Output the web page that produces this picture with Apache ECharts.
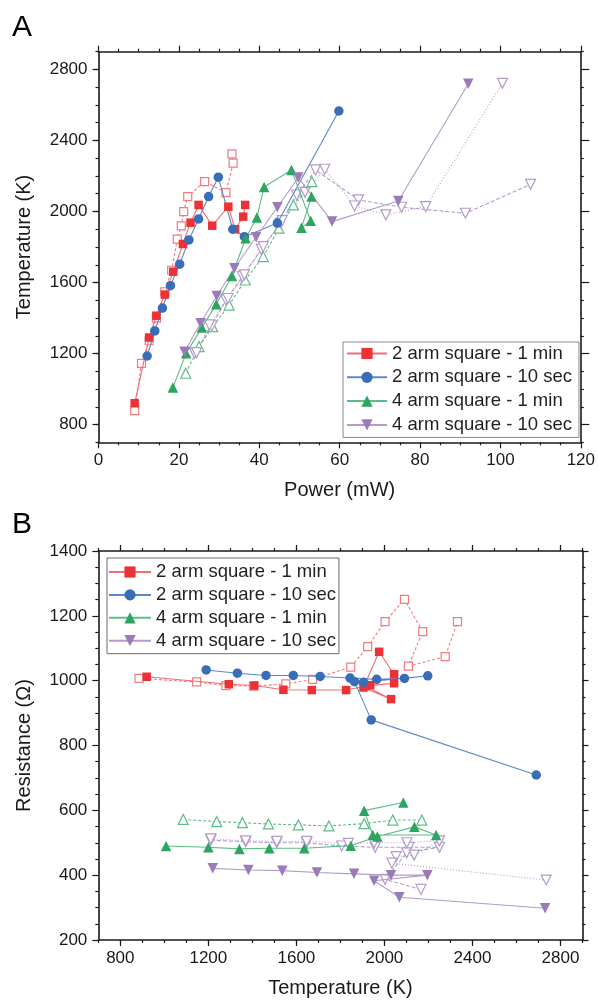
<!DOCTYPE html>
<html><head><meta charset="utf-8">
<script src="https://cdn.jsdelivr.net/npm/echarts@6/dist/echarts.min.js"></script>
<style>html,body{margin:0;padding:0;background:#fff}#c{width:598px;height:1003px}</style>
</head><body><div id="c"></div>
<script>
// ---------- Panel A: Power (mW) vs Temperature (K) ----------
const redP  = [9.0, 12.6, 14.4, 16.5, 18.6, 21.0, 22.9, 24.9, 28.3, 32.3, 34.0, 36.0, 36.5];
const redT  = [920, 1290, 1413, 1532, 1661, 1817, 1937, 2037, 1920, 2027, 1900, 1971, 2037];
const redOP = [9.0, 10.7, 12.6, 14.4, 16.5, 18.2, 19.6, 20.6, 21.2, 22.2, 26.4, 31.7, 33.5, 33.2];
const redOT = [878, 1145, 1272, 1399, 1548, 1669, 1844, 1919, 1999, 2084, 2168, 2106, 2272, 2324];
const bluP  = [12.1, 14.0, 15.9, 17.9, 20.2, 22.5, 24.9, 27.4, 29.8, 33.4, 36.3, 44.5, 59.8];
const bluT  = [1186, 1327, 1456, 1582, 1703, 1840, 1958, 2084, 2193, 1900, 1858, 1935, 2566];
const grnP  = [18.5, 21.8, 25.7, 29.3, 33.2, 36.6, 39.4, 41.2, 48.0, 52.8, 50.5, 53.0];
const grnT  = [1008, 1201, 1346, 1477, 1637, 1849, 1966, 2138, 2234, 1948, 1909, 2084];
const grnOP = [21.7, 25.0, 28.4, 32.5, 36.5, 41.0, 44.9, 48.5, 53.1];
const grnOT = [1089, 1239, 1351, 1473, 1614, 1746, 1906, 2037, 2168];
const purP  = [21.4, 25.4, 29.4, 33.8, 39.2, 44.5, 49.7, 58.1, 74.6, 92.0];
const purT  = [1210, 1370, 1524, 1680, 1855, 2024, 2191, 1943, 2059, 2719];
const purDP = [23.9, 28.2, 31.7, 35.8, 40.5, 45.3, 49.3, 54.0, 64.7, 75.4, 91.3, 107.5];
const purDT = [1201, 1355, 1502, 1633, 1787, 1934, 2093, 2234, 2065, 2024, 1990, 2153];
const purXP = [24.4, 27.6, 32.2, 36.3, 41.0, 45.7, 51.4, 56.3, 63.7, 71.5, 81.4, 100.5];
const purXT = [1205, 1361, 1510, 1643, 1802, 1948, 2108, 2238, 2031, 1981, 2027, 2722];

// ---------- Panel B: Temperature (K) vs Resistance (Ω) ----------
const redBT  = [920, 1293, 1409, 1541, 1670, 1826, 1935, 2044, 1915, 2030, 1905, 1976, 2044];
const redBR  = [1012, 989, 985, 972, 971, 971, 986, 992, 983, 943, 979, 1089, 1020];
const redOBT = [885, 1147, 1280, 1405, 1552, 1674, 1847, 1924, 2003, 2091, 2174, 2109, 2276, 2332];
const redOBR = [1007, 996, 985, 983, 990, 1004, 1042, 1105, 1182, 1251, 1151, 1045, 1074, 1182];
const bluBT  = [1190, 1332, 1462, 1586, 1708, 1844, 1965, 2091, 2197, 1905, 1864, 1940, 2690];
const bluBR  = [1033, 1023, 1016, 1016, 1013, 1008, 1004, 1007, 1015, 995, 997, 879, 709];
const grnBT  = [1008, 1200, 1341, 1477, 1636, 1847, 1968, 2136, 2235, 1947, 1908, 2086];
const grnBR  = [490, 486, 481, 483, 483, 491, 519, 549, 524, 524, 599, 624];
const grnOBT = [1086, 1238, 1355, 1473, 1609, 1748, 1908, 2038, 2170];
const grnOBR = [572, 565, 562, 558, 555, 552, 559, 570, 570];
const purBT  = [1220, 1382, 1536, 1693, 1862, 2030, 2195, 1953, 2068, 2730];
const purBR  = [421, 416, 414, 408, 404, 400, 400, 383, 332, 298];
const purDBT = [1211, 1370, 1511, 1647, 1806, 1958, 2112, 2250, 2101, 2003, 2166];
const purDBR = [508, 503, 500, 500, 490, 486, 486, 486, 469, 387, 356];
const purXBT = [1211, 1370, 1511, 1647, 1836, 1953, 2102, 2250, 2135, 2053, 2034, 2735];
const purXBR = [512, 506, 504, 504, 498, 500, 500, 506, 462, 457, 437, 385];

// ---------- Labels ----------
const names = ['2 arm square - 1 min', '2 arm square - 10 sec', '4 arm square - 1 min', '4 arm square - 10 sec'];
const tempTicks = [800, 1200, 1600, 2000, 2400, 2800];

const FONT = '"Liberation Sans", Arial, sans-serif';
const INK = '#1a1a1a';
const zip = (a, b) => a.map((v, i) => [v, b[i]]);
const DOWN = 'path://M0,0L10,0L5,8.66Z';
const plain = v => String(v);

const C = {
  red:  {m: '#ED3237', l: '#F26D71', o: '#F27B7F'},
  blue: {m: '#3A6DB8', l: '#5A88CC'},
  grn:  {m: '#2BA55F', l: '#5DBD86', o: '#5DBD86'},
  pur:  {m: '#9A7AB8', l: '#B49BCB', o: '#B49BCB'}
};

function axLine(show) { return {show: show, onZero: false, lineStyle: {color: INK, width: 1.6}}; }
function tick(len, custom) {
  const t = {show: true, inside: false, length: len, lineStyle: {color: INK, width: 1.2}};
  if (custom) t.customValues = custom;
  return t;
}
const lblStyle = {show: true, fontFamily: FONT, fontSize: 17, color: INK, formatter: plain};

function filled(name, data, sym, size, col, xi, yi) {
  return {
    type: 'line', name: name, data: data, xAxisIndex: xi, yAxisIndex: yi,
    symbol: sym, symbolSize: size, showSymbol: true,
    itemStyle: {color: col.m}, lineStyle: {color: col.l, width: 1.1, type: 'solid'},
    z: 5, animation: false, emphasis: {disabled: true}
  };
}
function open(name, data, sym, size, col, xi, yi, ltype) {
  return {
    type: 'line', name: name, data: data, xAxisIndex: xi, yAxisIndex: yi,
    symbol: sym, symbolSize: size, showSymbol: true,
    itemStyle: {color: '#ffffff', borderColor: col.o, borderWidth: 1.2},
    lineStyle: {color: col.o, width: 1.1, type: ltype},
    z: 3, animation: false, emphasis: {disabled: true}
  };
}

const gA = {left: 98.5, top: 51.7, width: 484.8, height: 390.6};
const gB = {left: 98.3, top: 551, width: 484.2, height: 389};

const option = {
  animation: false,
  backgroundColor: '#ffffff',
  textStyle: {fontFamily: FONT},
  grid: [
    Object.assign({containLabel: false}, gA),
    Object.assign({containLabel: false}, gA),
    Object.assign({containLabel: false}, gB),
    Object.assign({containLabel: false}, gB)
  ],
  xAxis: [
    {type: 'value', gridIndex: 0, position: 'bottom', min: 0, max: 120, interval: 20,
     axisLine: axLine(true), axisTick: tick(6), minorTick: {show: true, splitNumber: 4, length: 3, lineStyle: {color: INK, width: 1.2}},
     splitLine: {show: false}, minorSplitLine: {show: false},
     axisLabel: Object.assign({margin: 10}, lblStyle),
     name: 'Power (mW)', nameLocation: 'middle', nameGap: 38,
     nameTextStyle: {fontFamily: FONT, fontSize: 20, color: INK}},
    {type: 'value', gridIndex: 0, position: 'top', min: 0, max: 120, interval: 20,
     axisLine: axLine(true), axisTick: tick(6), minorTick: {show: true, splitNumber: 4, length: 3, lineStyle: {color: INK, width: 1.2}},
     splitLine: {show: false}, axisLabel: {show: false}},
    {type: 'value', gridIndex: 1, show: false, min: 0, max: 120},
    {type: 'value', gridIndex: 2, position: 'bottom', min: 700, max: 2900, interval: 100,
     axisLine: axLine(true), axisTick: tick(3), splitLine: {show: false},
     axisLabel: Object.assign({margin: 10, customValues: tempTicks}, lblStyle),
     name: 'Temperature (K)', nameLocation: 'middle', nameGap: 38,
     nameTextStyle: {fontFamily: FONT, fontSize: 20, color: INK}},
    {type: 'value', gridIndex: 2, position: 'top', min: 700, max: 2900, interval: 100,
     axisLine: axLine(true), axisTick: tick(3), splitLine: {show: false}, axisLabel: {show: false}},
    {type: 'value', gridIndex: 3, position: 'bottom', min: 700, max: 2900,
     axisLine: axLine(false), axisTick: tick(6, tempTicks), splitLine: {show: false}, axisLabel: {show: false}},
    {type: 'value', gridIndex: 3, position: 'top', min: 700, max: 2900,
     axisLine: axLine(false), axisTick: tick(6, tempTicks), splitLine: {show: false}, axisLabel: {show: false}}
  ],
  yAxis: [
    {type: 'value', gridIndex: 0, position: 'left', min: 700, max: 2900, interval: 100,
     axisLine: axLine(true), axisTick: tick(3), splitLine: {show: false},
     axisLabel: Object.assign({margin: 11, customValues: tempTicks}, lblStyle),
     name: 'Temperature (K)', nameLocation: 'middle', nameGap: 64, nameRotate: 90,
     nameTextStyle: {fontFamily: FONT, fontSize: 20, color: INK}},
    {type: 'value', gridIndex: 0, position: 'right', min: 700, max: 2900, interval: 100,
     axisLine: axLine(true), axisTick: tick(3), splitLine: {show: false}, axisLabel: {show: false}},
    {type: 'value', gridIndex: 1, position: 'left', min: 700, max: 2900,
     axisLine: axLine(false), axisTick: tick(6, tempTicks), splitLine: {show: false}, axisLabel: {show: false}},
    {type: 'value', gridIndex: 1, position: 'right', min: 700, max: 2900,
     axisLine: axLine(false), axisTick: tick(6, tempTicks), splitLine: {show: false}, axisLabel: {show: false}},
    {type: 'value', gridIndex: 2, position: 'left', min: 200, max: 1400, interval: 200,
     axisLine: axLine(true), axisTick: tick(6), minorTick: {show: true, splitNumber: 4, length: 3, lineStyle: {color: INK, width: 1.2}},
     splitLine: {show: false}, minorSplitLine: {show: false},
     axisLabel: Object.assign({margin: 11}, lblStyle),
     name: 'Resistance (Ω)', nameLocation: 'middle', nameGap: 64, nameRotate: 90,
     nameTextStyle: {fontFamily: FONT, fontSize: 20, color: INK}},
    {type: 'value', gridIndex: 2, position: 'right', min: 200, max: 1400, interval: 200,
     axisLine: axLine(true), axisTick: tick(6), minorTick: {show: true, splitNumber: 4, length: 3, lineStyle: {color: INK, width: 1.2}},
     splitLine: {show: false}, axisLabel: {show: false}},
    {type: 'value', gridIndex: 3, show: false, min: 200, max: 1400}
  ],
  legend: [
    {data: names, orient: 'vertical', left: 343, top: 342, itemWidth: 40, itemHeight: 14, itemGap: 4.8,
     padding: [2, 7, 3, 3], borderColor: '#8a8a8a', borderWidth: 1, backgroundColor: '#ffffff',
     textStyle: {fontFamily: FONT, fontSize: 18.5, color: '#231f20'}, selectedMode: false},
    {data: names, orient: 'vertical', left: 107, top: 558, itemWidth: 42, itemHeight: 14, itemGap: 3.9,
     padding: [4.5, 3, 3.5, 1], borderColor: '#6a6a6a', borderWidth: 1, backgroundColor: '#ffffff',
     textStyle: {fontFamily: FONT, fontSize: 18.5, color: '#231f20'}, selectedMode: false}
  ],
  graphic: [
    {type: 'text', left: 12, top: 13, style: {text: 'A', fontFamily: FONT, fontSize: 30, fill: '#000'}},
    {type: 'text', left: 12, top: 510, style: {text: 'B', fontFamily: FONT, fontSize: 30, fill: '#000'}}
  ],
  series: [
    // Panel A
    open('A red open', zip(redOP, redOT), 'rect', 8, C.red, 0, 0, [3, 2]),
    open('A green open', zip(grnOP, grnOT), 'triangle', 10, C.grn, 0, 0, [3, 2]),
    open('A purple open dashed', zip(purDP, purDT), DOWN, 10, C.pur, 0, 0, [4, 2]),
    open('A purple open dotted', zip(purXP, purXT), DOWN, 10, C.pur, 0, 0, [1, 2]),
    filled(names[0], zip(redP, redT), 'rect', 8.5, C.red, 0, 0),
    filled(names[1], zip(bluP, bluT), 'circle', 9.5, C.blue, 0, 0),
    filled(names[2], zip(grnP, grnT), 'triangle', 10.5, C.grn, 0, 0),
    filled(names[3], zip(purP, purT), DOWN, 10.5, C.pur, 0, 0),
    // Panel B
    open('B red open', zip(redOBT, redOBR), 'rect', 8, C.red, 3, 4, [3, 2]),
    open('B green open', zip(grnOBT, grnOBR), 'triangle', 10, C.grn, 3, 4, [3, 2]),
    open('B purple open dashed', zip(purDBT, purDBR), DOWN, 10, C.pur, 3, 4, [4, 2]),
    open('B purple open dotted', zip(purXBT, purXBR), DOWN, 10, C.pur, 3, 4, [1, 2]),
    filled(names[0], zip(redBT, redBR), 'rect', 8.5, C.red, 3, 4),
    filled(names[1], zip(bluBT, bluBR), 'circle', 9.5, C.blue, 3, 4),
    filled(names[2], zip(grnBT, grnBR), 'triangle', 10.5, C.grn, 3, 4),
    filled(names[3], zip(purBT, purBR), DOWN, 10.5, C.pur, 3, 4)
  ]
};

const chart = echarts.init(document.getElementById('c'), null, {renderer: 'canvas'});
chart.setOption(option);
</script>
</body></html>
